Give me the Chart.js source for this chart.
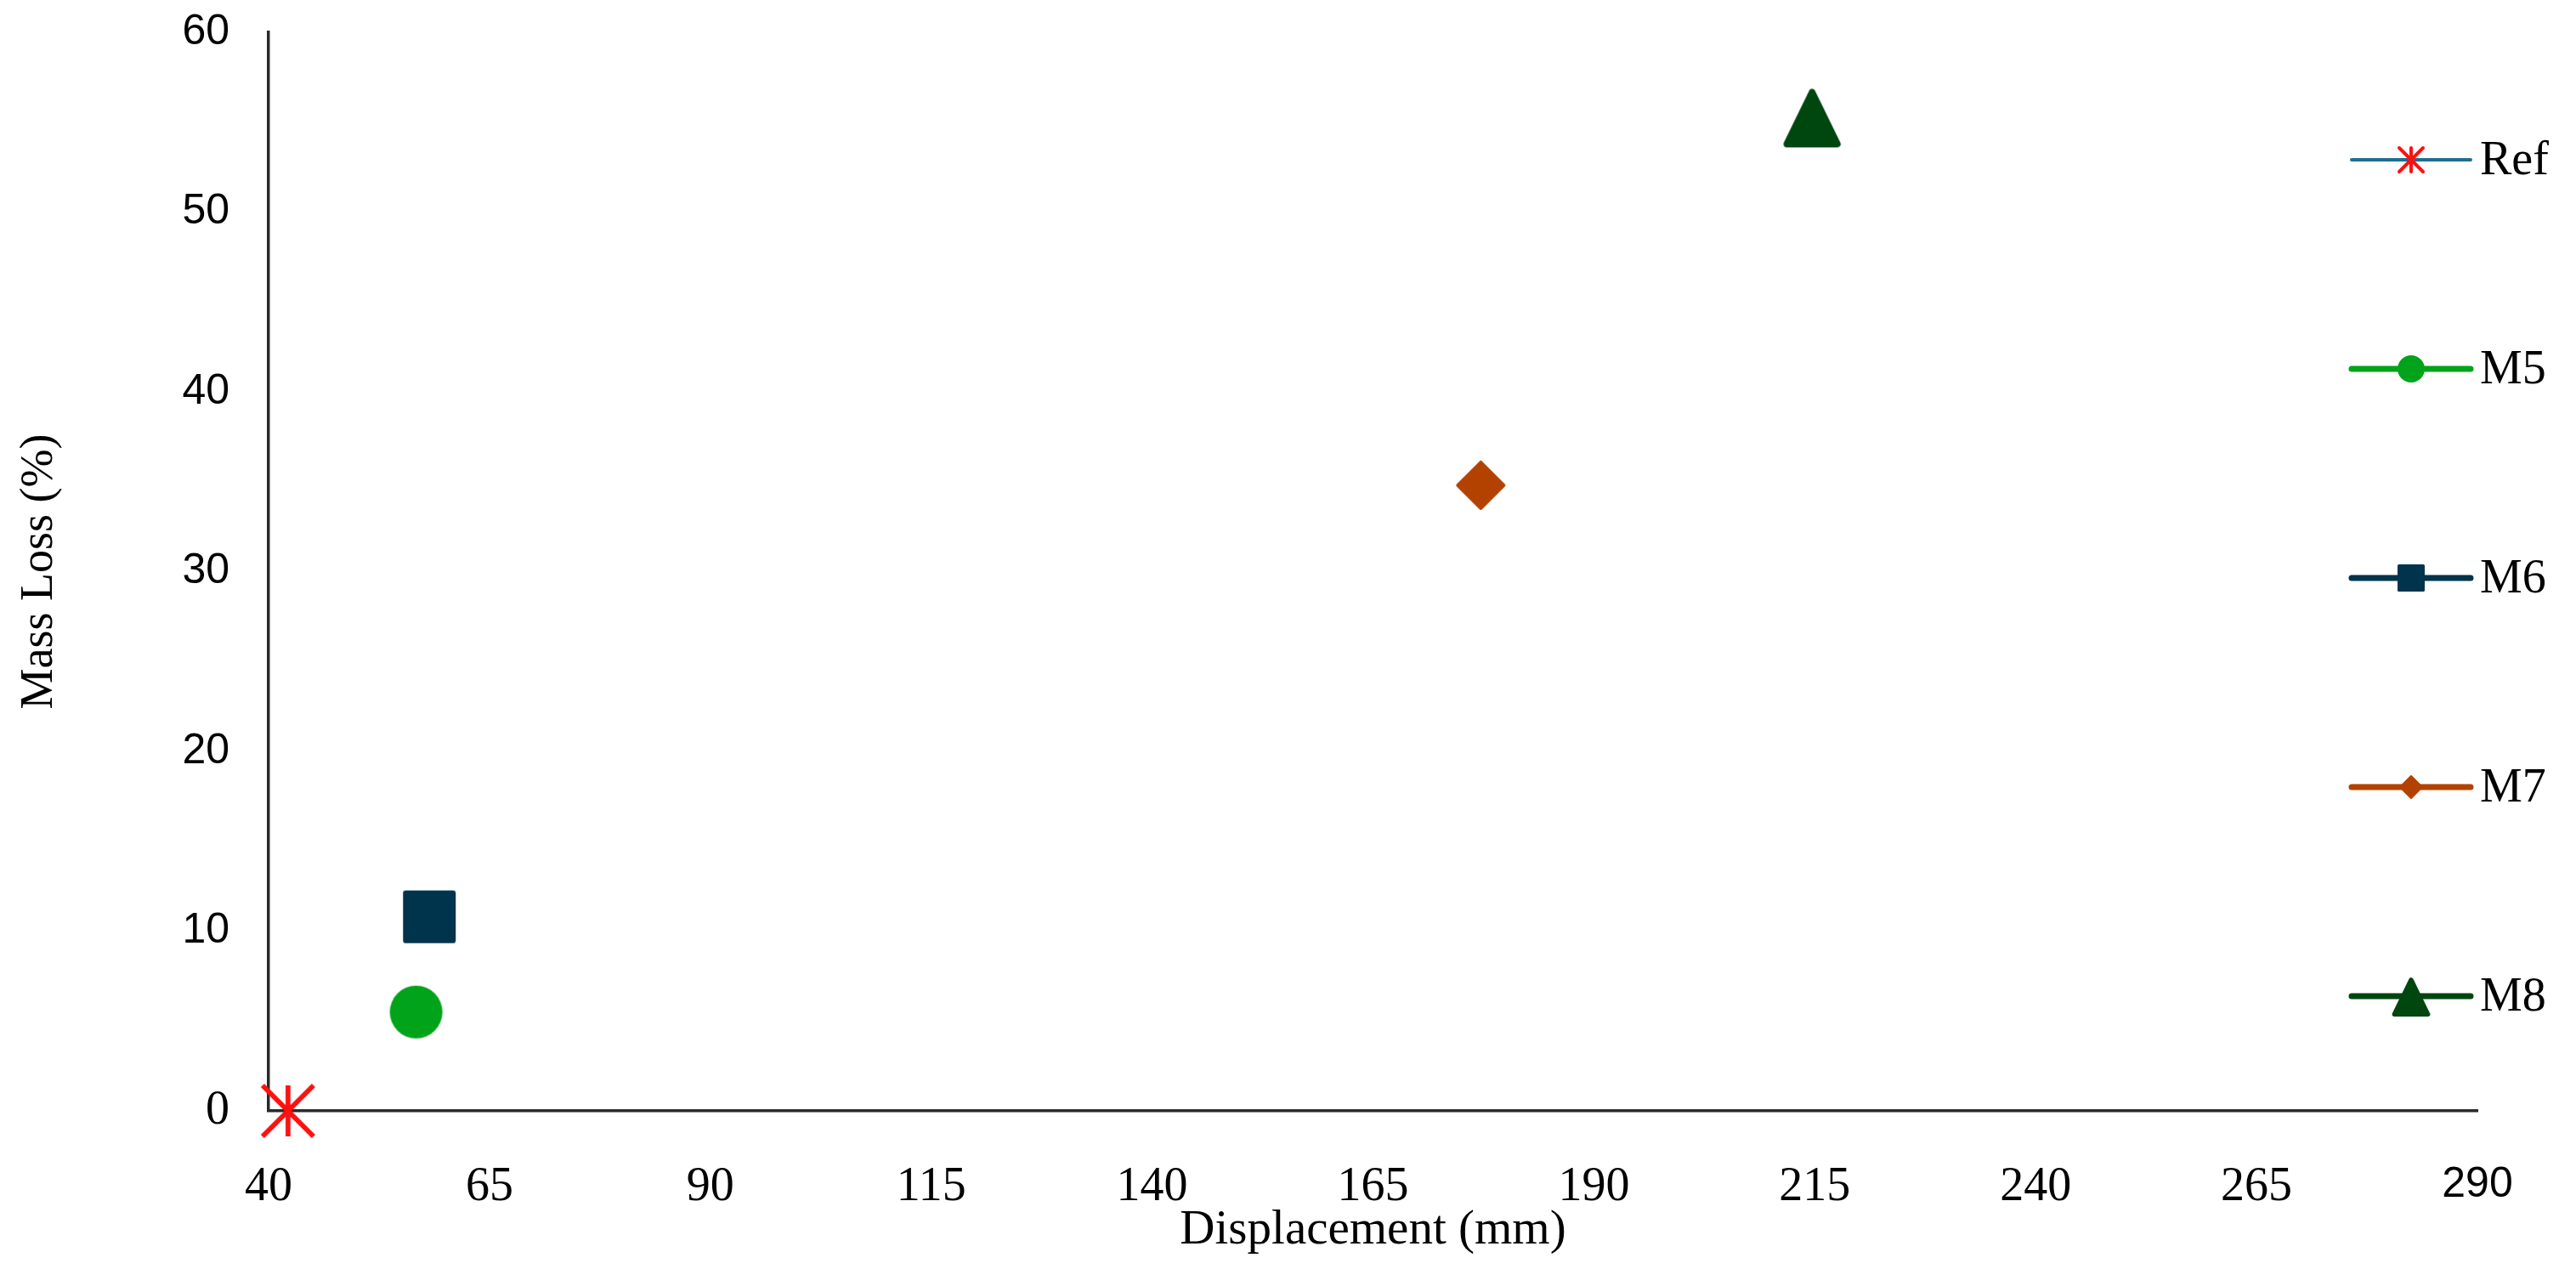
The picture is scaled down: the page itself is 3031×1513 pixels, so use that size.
<!DOCTYPE html>
<html>
<head>
<meta charset="utf-8">
<title>Mass Loss vs Displacement</title>
<script src="https://cdn.jsdelivr.net/npm/chart.js@4.4.1/dist/chart.umd.min.js"></script>
<style>
    html, body { margin: 0; padding: 0; background: #fff; }
    #wrap { width: 3031px; height: 1513px; }
</style>
</head>
<body>
<div id="wrap"><canvas id="massLossChart" width="3031" height="1513"></canvas></div>
<script>
// --- Data ---
const seriesNames = ['Ref', 'M5', 'M6', 'M7', 'M8'];
const displacement = [42.2, 56.7, 58.2, 177.2, 214.7]; // mm
const massLoss = [0, 5.5, 10.8, 34.8, 55.3];            // %
const xTicks = [40, 65, 90, 115, 140, 165, 190, 215, 240, 265, 290];
const yTicks = [0, 10, 20, 30, 40, 50, 60];

// --- Styles ---
const markerShapes = ['star', 'circle', 'square', 'diamond', 'triangle'];
const markerColors = ['#FF1010', '#00A31A', '#00334C', '#B34200', '#00460F'];
const lineColors = ['#1F6E8E', '#00A31A', '#00334C', '#B34200', '#00460F'];
const markerSizes = [30, 31, 31, 29, 36];   // half size in px, plot
const legendSizes = [14, 16, 16, 14, 24];   // half size in px, legend

const serif = '"Liberation Serif", "Times New Roman", serif';
const sans = '"Liberation Sans", Arial, sans-serif';

// draw one marker centred on (cx, cy)
function drawMarker(c, shape, cx, cy, s, color) {
    c.save();
    c.fillStyle = color;
    c.strokeStyle = color;
    if (shape === 'star') {
        c.lineWidth = Math.max(4, s * 0.19);
        c.beginPath();
        c.moveTo(cx, cy - s); c.lineTo(cx, cy + s);
        c.moveTo(cx - s, cy - s); c.lineTo(cx + s, cy + s);
        c.moveTo(cx + s, cy - s); c.lineTo(cx - s, cy + s);
        c.stroke();
    } else if (shape === 'circle') {
        c.beginPath();
        c.arc(cx, cy, s, 0, Math.PI * 2);
        c.fill();
    } else if (shape === 'square') {
        c.beginPath();
        c.roundRect(cx - s, cy - s, 2 * s, 2 * s, s * 0.1);
        c.fill();
    } else if (shape === 'diamond') {
        const w = s * 0.15;
        c.lineWidth = w; c.lineJoin = 'round';
        c.beginPath();
        c.moveTo(cx, cy - s + w / 2);
        c.lineTo(cx + s - w / 2, cy);
        c.lineTo(cx, cy + s - w / 2);
        c.lineTo(cx - s + w / 2, cy);
        c.closePath();
        c.fill(); c.stroke();
    } else if (shape === 'triangle') {
        const w = s * 0.22;
        c.lineWidth = w; c.lineJoin = 'round';
        c.beginPath();
        c.moveTo(cx, cy - s + w * 0.9);
        c.lineTo(cx + s - w * 0.8, cy + s - w / 2);
        c.lineTo(cx - s + w * 0.8, cy + s - w / 2);
        c.closePath();
        c.fill(); c.stroke();
    }
    c.restore();
}

// make an image to use as Chart.js pointStyle
function markerImage(shape, s, color) {
    const img = document.createElement('canvas');
    img.width = img.height = Math.ceil(2 * s + 10);
    drawMarker(img.getContext('2d'), shape, img.width / 2, img.height / 2, s, color);
    return img;
}

const datasets = seriesNames.map((name, i) => ({
    label: name,
    data: [{ x: displacement[i], y: massLoss[i] }],
    pointStyle: markerImage(markerShapes[i], markerSizes[i], markerColors[i]),
    borderColor: lineColors[i],
    backgroundColor: markerColors[i],
    showLine: false,
    clip: false
}));

// --- Legend drawn at the right side, line + marker like the original ---
const legendX0 = 2767;
const legendX1 = 2907;
const legendTextX = 2918;
const legendTop = 188;
const legendGap = 246;

const sideLegend = {
    id: 'sideLegend',
    afterDraw(chart) {
        const c = chart.ctx;
        chart.data.datasets.forEach((ds, i) => {
            const y = legendTop + i * legendGap;
            c.save();
            c.strokeStyle = lineColors[i];
            c.lineWidth = i === 0 ? 4 : 7;
            c.lineCap = 'round';
            c.beginPath();
            c.moveTo(legendX0, y);
            c.lineTo(legendX1, y);
            c.stroke();
            drawMarker(c, markerShapes[i], (legendX0 + legendX1) / 2, y, legendSizes[i], markerColors[i]);
            c.fillStyle = '#000';
            c.font = '56px ' + serif;
            c.textBaseline = 'middle';
            c.textAlign = 'left';
            c.fillText(ds.label, legendTextX, y + 2);
            c.restore();
        });
    }
};

// --- Chart ---
const ctx = document.getElementById('massLossChart').getContext('2d');
const massLossChart = new Chart(ctx, {
    type: 'scatter',
    data: { datasets },
    plugins: [sideLegend],
    options: {
        responsive: false,
        animation: false,
        devicePixelRatio: 1,
        layout: { padding: { left: 0, right: 116, top: 38, bottom: 0 } },
        plugins: {
            legend: { display: false },
            tooltip: { enabled: false }
        },
        scales: {
            x: {
                type: 'linear',
                min: xTicks[0],
                max: xTicks[xTicks.length - 1],
                afterBuildTicks: (s) => { s.ticks = xTicks.map(v => ({ value: v })); },
                afterFit: (s) => { s.height = 206; s.paddingLeft = 0; s.paddingRight = 0; },
                grid: { display: false, drawTicks: false },
                border: { display: true, color: '#2a2a2a', width: 3.5 },
                ticks: {
                    padding: 57,
                    color: '#000',
                    font: (c) => ({ family: c.tick && c.tick.value === 290 ? sans : serif, size: c.tick && c.tick.value === 290 ? 50 : 56 })
                },
                title: {
                    display: true,
                    text: 'Displacement (mm)',
                    color: '#000',
                    font: { family: serif, size: 57 },
                    padding: { top: 31, bottom: 31 }
                }
            },
            y: {
                type: 'linear',
                min: yTicks[0],
                max: yTicks[yTicks.length - 1],
                afterBuildTicks: (s) => { s.ticks = yTicks.map(v => ({ value: v })); },
                afterFit: (s) => { s.width = 316; s.paddingTop = 0; s.paddingBottom = 0; },
                grid: { display: false, drawTicks: false },
                border: { display: true, color: '#2a2a2a', width: 3.5 },
                ticks: {
                    padding: 46,
                    color: '#000',
                    font: (c) => ({ family: c.tick && c.tick.value === 0 ? serif : sans, size: c.tick && c.tick.value === 0 ? 56 : 50 })
                },
                title: {
                    display: true,
                    text: 'Mass Loss (%)',
                    color: '#000',
                    font: { family: serif, size: 54 },
                    padding: { top: 14, bottom: 14 }
                }
            }
        }
    }
});
</script>
</body>
</html>
